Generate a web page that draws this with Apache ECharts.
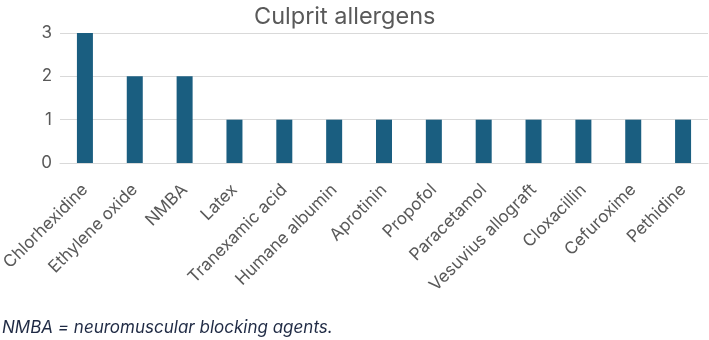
<!DOCTYPE html>
<html><head><meta charset="utf-8">
<script src="https://cdn.jsdelivr.net/npm/echarts@6/dist/echarts.min.js"></script>
<style>html,body{margin:0;padding:0;background:#fff}#c{width:709px;height:340px}</style>
</head><body><div id="c"></div>
<script>
const categories = ["Chlorhexidine","Ethylene oxide","NMBA","Latex","Tranexamic acid","Humane albumin","Aprotinin","Propofol","Paracetamol","Vesuvius allograft","Cloxacillin","Cefuroxime","Pethidine"];
const counts = [3,2,2,1,1,1,1,1,1,1,1,1,1];
const titleText = "Culprit allergens";
const footnote = "NMBA = neuromuscular blocking agents.";
const FF = 'Inter, "Open Sans", sans-serif';
const chart = echarts.init(document.getElementById('c'), null, {renderer:'canvas'});
chart.setOption({
  animation:false,
  textStyle:{fontFamily:FF},
  title:{text:titleText,left:249,top:0,textStyle:{fontSize:23.5,fontWeight:'normal',color:'#595959',fontFamily:FF}},
  graphic:[{type:'text',left:2,top:319,style:{text:footnote,fontSize:17,fontStyle:'italic',fill:'#1f2a44',fontFamily:FF}}],
  grid:{left:60,right:1,top:33,bottom:177,containLabel:false,outerBoundsMode:'none'},
  xAxis:{type:'category',data:categories,
    axisLine:{show:true,lineStyle:{color:'#d9d9d9'}},axisTick:{show:false},
    axisLabel:{rotate:45,margin:24,fontSize:17,color:'#595959',interval:0}},
  yAxis:{type:'value',min:0,max:3,interval:1,
    axisLine:{show:false},axisTick:{show:false},
    splitLine:{lineStyle:{color:'#d9d9d9',width:1}},
    axisLabel:{fontSize:17,color:'#595959',margin:8}},
  series:[{type:'bar',data:counts,barWidth:16,itemStyle:{color:'#1a5e80'}}]
});
</script></body></html>
